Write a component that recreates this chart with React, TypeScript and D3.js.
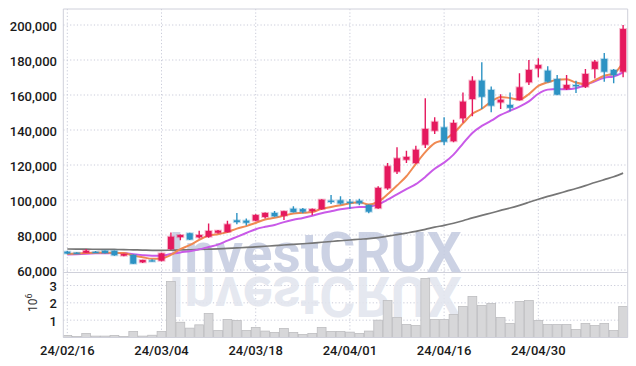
import React from "react";
import * as d3 from "d3";

const dates = [
  "24/02/16","24/02/19","24/02/20","24/02/21","24/02/22","24/02/23","24/02/26","24/02/27","24/02/28","24/02/29",
  "24/03/04","24/03/05","24/03/06","24/03/07","24/03/08","24/03/11","24/03/12","24/03/13","24/03/14","24/03/15",
  "24/03/18","24/03/19","24/03/20","24/03/21","24/03/22","24/03/25","24/03/26","24/03/27","24/03/28","24/03/29",
  "24/04/01","24/04/02","24/04/03","24/04/04","24/04/05","24/04/08","24/04/09","24/04/11","24/04/12","24/04/15",
  "24/04/16","24/04/17","24/04/18","24/04/19","24/04/22","24/04/23","24/04/24","24/04/25","24/04/26","24/04/29",
  "24/04/30","24/05/02","24/05/03","24/05/07","24/05/08","24/05/09","24/05/10","24/05/13","24/05/14","24/05/16",
];

const opens = [
  70500, 69900, 69900, 70400, 71000, 71000, 68200, 68600, 64400, 65500,
  65300, 72000, 78800, 81000, 78700, 79000, 81300, 81700, 88400, 88200,
  88200, 90300, 92600, 91000, 95000, 94800, 93700, 94800, 99600, 99800,
  99000, 99600, 97100, 95300, 106700, 116200, 123000, 121100, 131600, 139600,
  141500, 133600, 146700, 157700, 168200, 162900, 155800, 154300, 157100, 167300,
  175200, 173900, 169100, 163600, 165700, 164700, 174900, 180600, 174300, 173300,
];
const highs = [
  70900, 70200, 72000, 70800, 71200, 71200, 69300, 68800, 65900, 66200,
  69800, 81500, 80300, 81300, 82500, 86600, 82900, 88200, 92600, 89500,
  91800, 92900, 93700, 93900, 96400, 95500, 95100, 100500, 102900, 102100,
  100600, 100700, 97400, 107800, 121100, 130100, 128200, 131000, 158100, 147300,
  147300, 145900, 161500, 170700, 178700, 164800, 160400, 161500, 172400, 180000,
  181000, 176400, 171400, 171400, 168200, 174900, 180000, 184000, 174800, 200000,
];
const lows = [
  69200, 69300, 69700, 69900, 69500, 68200, 67800, 63400, 64000, 64800,
  65000, 71500, 77000, 77200, 78000, 78500, 80800, 81400, 86100, 85500,
  87900, 89500, 90400, 88600, 92800, 92500, 91300, 94500, 97700, 97500,
  95000, 97000, 92500, 95000, 105900, 114900, 121100, 120800, 129700, 137700,
  131400, 133000, 144200, 147800, 152000, 150100, 152000, 150700, 156800, 165700,
  170100, 167200, 160000, 162800, 161100, 164000, 169500, 167600, 166700, 170100,
];
const closes = [
  69400, 69600, 71000, 70300, 69700, 68400, 69100, 63600, 65700, 65200,
  69500, 79000, 80000, 77400, 80000, 82300, 82500, 86100, 87400, 87000,
  91400, 92600, 90700, 93600, 93100, 93300, 94800, 100200, 98900, 98000,
  98700, 98100, 93300, 106900, 119300, 123800, 124600, 128700, 140600, 144700,
  133300, 144000, 156200, 168200, 159000, 153900, 157300, 152700, 164400, 174300,
  177100, 167600, 160200, 165700, 165100, 172000, 179000, 173300, 171400, 197700,
];

// volume in millions of shares
const volumes = [
  0.12, 0.06, 0.23, 0.08, 0.08, 0.12, 0.06, 0.35, 0.08, 0.13,
  0.35, 3.23, 0.88, 0.54, 0.73, 1.38, 0.40, 1.04, 0.98, 0.40,
  0.58, 0.37, 0.29, 0.52, 0.29, 0.17, 0.23, 0.58, 0.35, 0.35,
  0.31, 0.23, 0.37, 1.0, 2.13, 1.15, 0.75, 0.69, 3.40, 1.04,
  1.04, 1.33, 1.79, 2.37, 1.85, 1.96, 1.15, 0.81, 2.08, 2.13,
  0.98, 0.75, 0.75, 0.75, 0.46, 0.81, 0.69, 0.81, 0.40, 1.79,
];

const ma5 = [
  69200, 69400, 69700, 69900, 70000, 69800, 69700, 68220, 67300, 66400,
  66620, 68600, 71880, 74220, 77180, 79740, 80440, 81660, 83660, 85060,
  86880, 88900, 89820, 91060, 92280, 92660, 93100, 95000, 96060, 97040,
  98120, 98780, 97400, 99000, 103260, 108280, 113580, 120660, 127400, 132480,
  134380, 138260, 143760, 149280, 152140, 156260, 158920, 158220, 157460, 160520,
  165160, 167220, 168720, 168980, 167140, 166120, 168400, 171020, 172160, 178680,
];
const ma10 = [
  68800, 69000, 69300, 69500, 69600, 69700, 69700, 69000, 68500, 68200,
  68210, 69150, 70050, 70760, 71790, 73180, 74520, 76770, 78940, 81120,
  83310, 84670, 85740, 87360, 88670, 89770, 91000, 92410, 93560, 94660,
  95390, 95940, 96200, 97530, 100150, 103200, 106180, 109030, 113200, 117870,
  121330, 125920, 132210, 138340, 142310, 145320, 148590, 150990, 153370, 156330,
  160710, 163070, 163470, 163220, 163830, 165640, 167810, 169870, 170570, 172910,
];
const ma60 = [
  72000, 71940, 71900, 71850, 71800, 71730, 71670, 71510, 71390, 71260,
  71200, 71330, 71480, 71580, 71730, 71910, 72100, 72350, 72620, 72880,
  73220, 73580, 73900, 74280, 74630, 75000, 75380, 75850, 76300, 76720,
  77150, 77580, 77940, 78520, 79320, 80200, 81100, 82060, 83220, 84460,
  85500, 86720, 88140, 89760, 91220, 92600, 94040, 95400, 96960, 98680,
  100450, 102050, 103500, 105050, 106580, 108220, 109980, 111640, 113270, 115350,
];

const priceTicks = [60000, 80000, 100000, 120000, 140000, 160000, 180000, 200000];
const volumeTicks = [1, 2, 3];
const dateTickIdx = [0, 10, 20, 30, 40, 50];

const W = 636;
const H = 366;
const LEFT = 63.3;
const RIGHT = 627.7;
const TOP = 9;
const SEP = 272.5;
const BOTTOM = 337.5;

const UP = "#e5195e";
const DOWN = "#2d93c4";
const FONT = "Roboto, 'DejaVu Sans', sans-serif";

export default function App() {
  const x = d3.scaleLinear().domain([0, 59]).range([67.3, 623.1]);
  const y = d3.scaleLinear().domain([60000, 200000]).range([270, 25]);
  const yv = d3.scaleLinear().domain([0, 3]).range([BOTTOM, 285.5]);

  const lineGen = (vals: number[]) =>
    d3
      .line<number>()
      .x((_, i) => x(i))
      .y((v) => y(v))
      .curve(d3.curveMonotoneX)(vals) || "";

  const grid = "#c9cbd9";
  const border = "#cfd0da";

  return (
    <svg
      width={W}
      height={H}
      style={{ position: "absolute", left: 0, top: 0, background: "#fff" }}
      fontFamily={FONT}
    >
      <defs>
        <clipPath id="pclip">
          <rect x={LEFT} y={TOP} width={RIGHT - LEFT} height={SEP - TOP} />
        </clipPath>
        <clipPath id="vclip">
          <rect x={LEFT} y={SEP} width={RIGHT - LEFT} height={BOTTOM - SEP} />
        </clipPath>
      </defs>

      {/* grid */}
      {priceTicks.map((t) => (
        <line key={"pg" + t} x1={LEFT} x2={RIGHT} y1={y(t)} y2={y(t)} stroke={grid} strokeDasharray="1.2,2.2" strokeWidth={1} />
      ))}
      {volumeTicks.map((t) => (
        <line key={"vg" + t} x1={LEFT} x2={RIGHT} y1={yv(t)} y2={yv(t)} stroke={grid} strokeDasharray="1.2,2.2" strokeWidth={1} />
      ))}
      {dateTickIdx.map((i) => (
        <line key={"xg" + i} x1={x(i)} x2={x(i)} y1={TOP} y2={BOTTOM} stroke={grid} strokeDasharray="1.2,2.2" strokeWidth={1} />
      ))}

      {/* watermark */}
      <g clipPath="url(#pclip)">
        <text x={315} y={SEP - 0.5} textAnchor="middle" fontSize={55} fontWeight="bold" fill="#c3cadf" fillOpacity={0.85} fontFamily={FONT}>
          InvestCRUX
        </text>
      </g>
      <g clipPath="url(#vclip)">
        <text
          x={315}
          y={SEP - 0.5}
          textAnchor="middle"
          fontSize={55}
          fontWeight="bold"
          fill="#e2e5ee"
          fillOpacity={0.9}
          fontFamily={FONT}
          transform={`translate(0, ${2 * SEP + 4}) scale(1,-1)`}
        >
          InvestCRUX
        </text>
      </g>

      {/* volume bars */}
      <g clipPath="url(#vclip)">
        {volumes.map((v, i) => (
          <rect
            key={"v" + i}
            x={x(i) - 4.4}
            width={8.8}
            y={yv(v)}
            height={BOTTOM - yv(v)}
            fill="#d7d7d9"
            stroke="#bdbdc0"
            strokeWidth={0.8}
          />
        ))}
      </g>

      {/* moving averages */}
      <g clipPath="url(#pclip)" fill="none">
        <path d={lineGen(ma60)} stroke="#767676" strokeWidth={1.7} />
        <path d={lineGen(ma10)} stroke="#c95ae8" strokeWidth={2} />
        <path d={lineGen(ma5)} stroke="#f08a52" strokeWidth={2} />
      </g>

      {/* candles */}
      <g clipPath="url(#pclip)">
        {closes.map((c, i) => {
          const o = opens[i];
          const up = c >= o;
          const col = up ? UP : DOWN;
          const top = y(Math.max(o, c));
          const bot = y(Math.min(o, c));
          const h = Math.max(1.2, bot - top);
          return (
            <g key={"c" + i}>
              <line x1={x(i)} x2={x(i)} y1={y(highs[i])} y2={y(lows[i])} stroke={col} strokeWidth={1.4} />
              <rect
                x={x(i) - 3}
                width={6}
                y={top}
                height={h}
                fill={col}
                stroke={col}
                strokeOpacity={0.3}
                strokeWidth={2}
              />
            </g>
          );
        })}
      </g>

      {/* borders */}
      <line x1={LEFT} x2={RIGHT} y1={TOP} y2={TOP} stroke={border} />
      <line x1={LEFT} x2={RIGHT} y1={SEP} y2={SEP} stroke={border} />
      <line x1={LEFT} x2={RIGHT} y1={BOTTOM} y2={BOTTOM} stroke={border} />
      <line x1={LEFT} x2={LEFT} y1={TOP} y2={BOTTOM} stroke={border} />
      <line x1={RIGHT} x2={RIGHT} y1={TOP} y2={BOTTOM} stroke={border} />

      {/* price axis labels */}
      {priceTicks.map((t) => (
        <text key={"pl" + t} x={57} y={y(t) + 6} textAnchor="end" fontSize={13} fontWeight={500} fill="#1a1a1a">
          {d3.format(",")(t)}
        </text>
      ))}
      {/* volume axis labels */}
      {volumeTicks.map((t) => (
        <text key={"vl" + t} x={57} y={yv(t) + 5.5} textAnchor="end" fontSize={13} fontWeight={500} fill="#1a1a1a">
          {t}
        </text>
      ))}
      <text transform="translate(37,312) rotate(-90)" fontSize={12} fill="#333">
        10
        <tspan dy={-5} fontSize={9}>6</tspan>
      </text>

      {/* date labels */}
      {dateTickIdx.map((i) => (
        <text key={"dl" + i} x={x(i)} y={354.5} textAnchor="middle" fontSize={13} fontWeight={500} fill="#1a1a1a">
          {dates[i]}
        </text>
      ))}
    </svg>
  );
}
